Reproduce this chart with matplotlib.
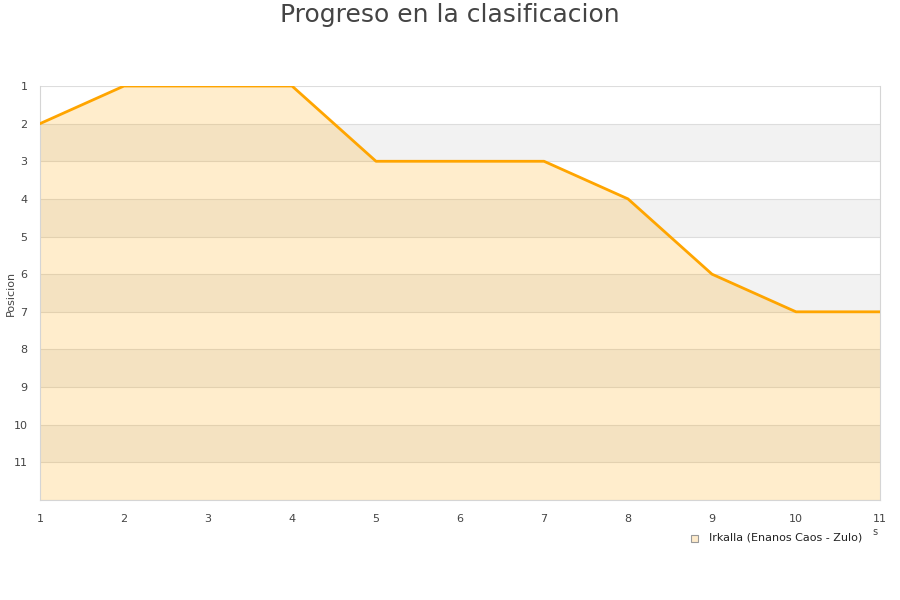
import matplotlib.pyplot as plt
import numpy as np

# datos
jornadas = [1, 2, 3, 4, 5, 6, 7, 8, 9, 10, 11]
posiciones = [2, 1, 1, 1, 3, 3, 3, 4, 6, 7, 7]
equipo = 'Irkalla (Enanos Caos - Zulo)'
y_ticks = list(range(1, 12))

fig = plt.figure(figsize=(9, 6), dpi=100)
ax = fig.add_axes([40 / 900, 100 / 600, 840 / 900, 414 / 600])

# bandas alternas de fondo
for y0 in range(2, 12, 2):
    ax.axhspan(y0, y0 + 1, color='#f2f2f2', zorder=0, lw=0)
for y in range(1, 13):
    ax.axhline(y, color='#dddddd', lw=0.8, zorder=1)

ax.fill_between(jornadas, posiciones, 12, color='#ffa500', alpha=0.2, lw=0, zorder=2)
ax.plot(jornadas, posiciones, color='#ffa500', lw=2, zorder=3)

ax.set_xlim(1, 11)
ax.set_ylim(12, 1)
ax.set_xticks(jornadas)
ax.set_yticks(y_ticks)
ax.tick_params(length=0, labelsize=8, labelcolor='#444444', pad=10)
ax.tick_params(axis='y', pad=9)
for s in ax.spines.values():
    s.set_color('#d5d5d5')
ax.spines['top'].set_visible(False)
fig.text(11 / 900, 1 - 293 / 600, 'Posicion', fontsize=8, color='#444444',
         rotation=90, ha='center', va='center')

fig.text(0.5, 1 - 15 / 600, 'Progreso en la clasificacion', fontsize=18,
         color='#444444', ha='center', va='center')

fig.text(875 / 900, 1 - 532 / 600, 's', fontsize=7, color='#444444', ha='center', va='center')
fig.patches.append(plt.Rectangle((691 / 900, 1 - 542 / 600), 7 / 900, 7 / 600,
                                 transform=fig.transFigure, facecolor='#feebcb',
                                 edgecolor='#999999', lw=0.8))
fig.text(709 / 900, 1 - 538 / 600, equipo, fontsize=8, color='#222222', va='center')

fig.savefig('out.png', dpi=100)
